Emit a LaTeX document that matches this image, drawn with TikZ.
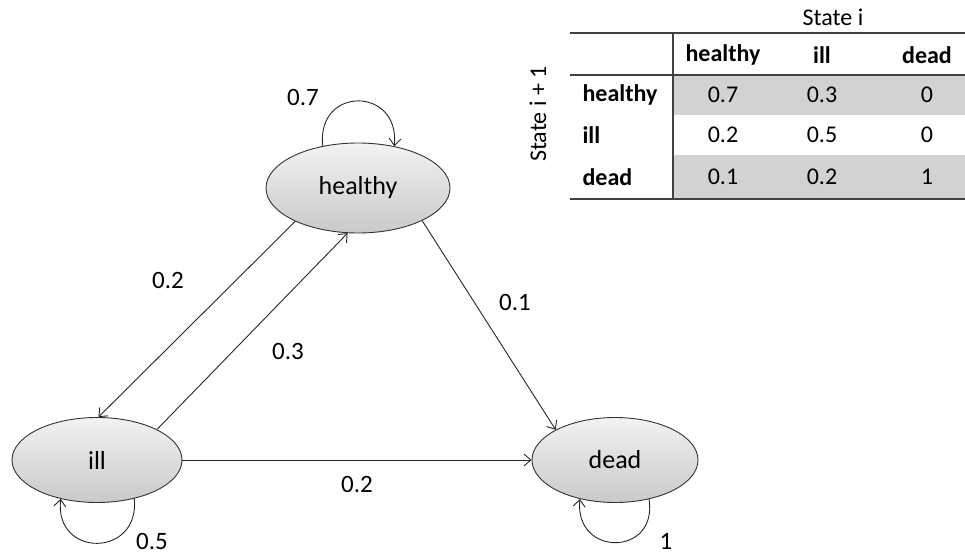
\documentclass[tikz,border=0pt]{standalone}
\usepackage{fontspec}
\setmainfont{Carlito}
\usetikzlibrary{shapes.geometric,arrows.meta}

\tikzset{
  state/.style={ellipse, draw=black!80, line width=0.9pt, inner sep=0pt,
    top color=gray!10, bottom color=gray!42, font=\fontsize{26}{30}\selectfont},
  trans/.style={draw=black!85, line width=0.9pt,
    -{Straight Barb[length=7pt,width=12pt,line width=0.9pt]}},
  prob/.style={font=\fontsize{25}{29}\selectfont},
  cell/.style={font=\fontsize{24}{28}\selectfont},
  headcell/.style={font=\fontsize{24}{28}\selectfont\bfseries},
  rule/.style={draw=black!75, line width=1.3pt},
}

\begin{document}
\begin{tikzpicture}[x=1pt,y=-1pt]
\useasboundingbox (0,0) rectangle (965,556);

% states
\node[state, minimum width=184pt, minimum height=90pt] (healthy) at (358,188) {healthy};
\node[state, minimum width=170pt, minimum height=85pt] (ill) at (97,460) {ill};
\node[state, minimum width=166pt, minimum height=85pt] (dead) at (615,460) {dead};

% transitions between states
\draw[trans] (healthy.208) -- (ill.88);
\draw[trans] (ill.27) -- (healthy.257);
\draw[trans] (healthy.333) -- (dead.153);
\draw[trans] (ill.east) -- (dead.west);

% self loops
\draw[trans] (healthy.130) .. controls (316,86) and (400,86) .. (healthy.49);
\draw[trans] (ill.314) .. controls (140,558) and (54,558) .. (ill.227);
\draw[trans] (dead.311) .. controls (658,557) and (574,557) .. (dead.228);

% transition probabilities
\node[prob] (p07) at (303,97) {0.7};
\node[prob] (p02a) at (168,280) {0.2};
\node[prob] (p03) at (288,351) {0.3};
\node[prob] (p01) at (515,302) {0.1};
\node[prob] (p02b) at (357,484) {0.2};
\node[prob] (p05) at (152,541) {0.5};
\node[prob] (p1) at (666,541) {1};

% transition matrix
\fill[gray!35] (673,75) rectangle (965,115);
\fill[gray!35] (673,155) rectangle (965,198);
\draw[rule] (570,33) -- (965,33);
\draw[rule] (570,75) -- (965,75);
\draw[rule] (570,199) -- (965,199);
\draw[rule] (673,33) -- (673,200);

\node[cell] (coltitle) at (833,17) {State i};
\node[cell, rotate=90] (rowtitle) at (538,114) {State i + 1};

\node[headcell] (ch) at (723,55) {healthy};
\node[headcell] (ci) at (822,55) {ill};
\node[headcell] (cd) at (927,55) {dead};
\node[headcell, anchor=west] (rh) at (579,95) {healthy};
\node[headcell, anchor=west] (ri) at (579,135) {ill};
\node[headcell, anchor=west] (rd) at (579,177) {dead};

\node[cell] at (723,95) {0.7};
\node[cell] at (822,95) {0.3};
\node[cell] at (927,95) {0};
\node[cell] at (723,135) {0.2};
\node[cell] at (822,135) {0.5};
\node[cell] at (927,135) {0};
\node[cell] at (723,177) {0.1};
\node[cell] at (822,177) {0.2};
\node[cell] at (927,177) {1};
\end{tikzpicture}
\end{document}
